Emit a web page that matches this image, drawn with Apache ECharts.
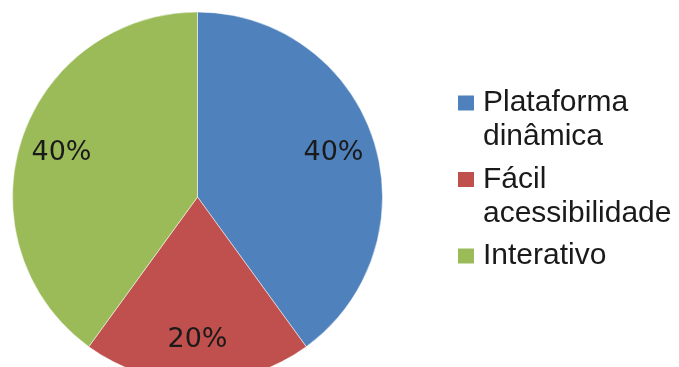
<!DOCTYPE html>
<html>
<head>
<meta charset="utf-8">
<script src="https://cdn.jsdelivr.net/npm/echarts@6/dist/echarts.min.js"></script>
<style>
  html, body { margin: 0; padding: 0; background: #ffffff; }
  #chart { width: 679px; height: 367px; }
</style>
</head>
<body>
<div id="chart"></div>
<script>
// ---- data ----
const categories = ['Plataforma\ndinâmica', 'Fácil\nacessibilidade', 'Interativo'];
const values = [40, 20, 40];
const colors = ['#4F81BD', '#C0504D', '#9BBB59'];

const pieData = categories.map((name, i) => ({ name: name, value: values[i] }));

const chart = echarts.init(document.getElementById('chart'), null, { renderer: 'canvas' });

const option = {
  animation: false,
  backgroundColor: '#ffffff',
  color: colors,
  legend: {
    orient: 'vertical',
    left: 456,
    top: 52,
    padding: 0,
    itemGap: -25.5,
    itemWidth: 18,
    itemHeight: 17,
    icon: 'rect',
    data: categories,
    formatter: function (name) {
      const lines = name.split('\n');
      while (lines.length < 2) lines.push(' ');
      return ' \n' + lines.join('\n');
    },
    textStyle: {
      fontFamily: 'Liberation Sans, Arial, sans-serif',
      fontSize: 30,
      lineHeight: 34,
      color: '#1a1a1a',
      padding: [0, 0, 0, 3]
    }
  },
  series: [
    {
      type: 'pie',
      center: [197.5, 197],
      radius: [0, 185],
      startAngle: 90,
      clockwise: true,
      silent: true,
      data: pieData,
      label: { show: false },
      labelLine: { show: false },
      itemStyle: { borderColor: '#ffffff', borderWidth: 0.5 }
    },
    {
      type: 'pie',
      center: [197.5, 197],
      radius: [0, 280],
      startAngle: 90,
      clockwise: true,
      silent: true,
      z: 3,
      data: pieData,
      itemStyle: { color: 'rgba(0,0,0,0)', borderWidth: 0 },
      labelLine: { show: false },
      emphasis: { disabled: true },
      label: {
        show: true,
        position: 'inside',
        formatter: '{c}%',
        fontFamily: 'DejaVu Sans, sans-serif',
        fontSize: 27,
        color: '#1a1a1a'
      }
    }
  ]
};

chart.setOption(option);
</script>
</body>
</html>
